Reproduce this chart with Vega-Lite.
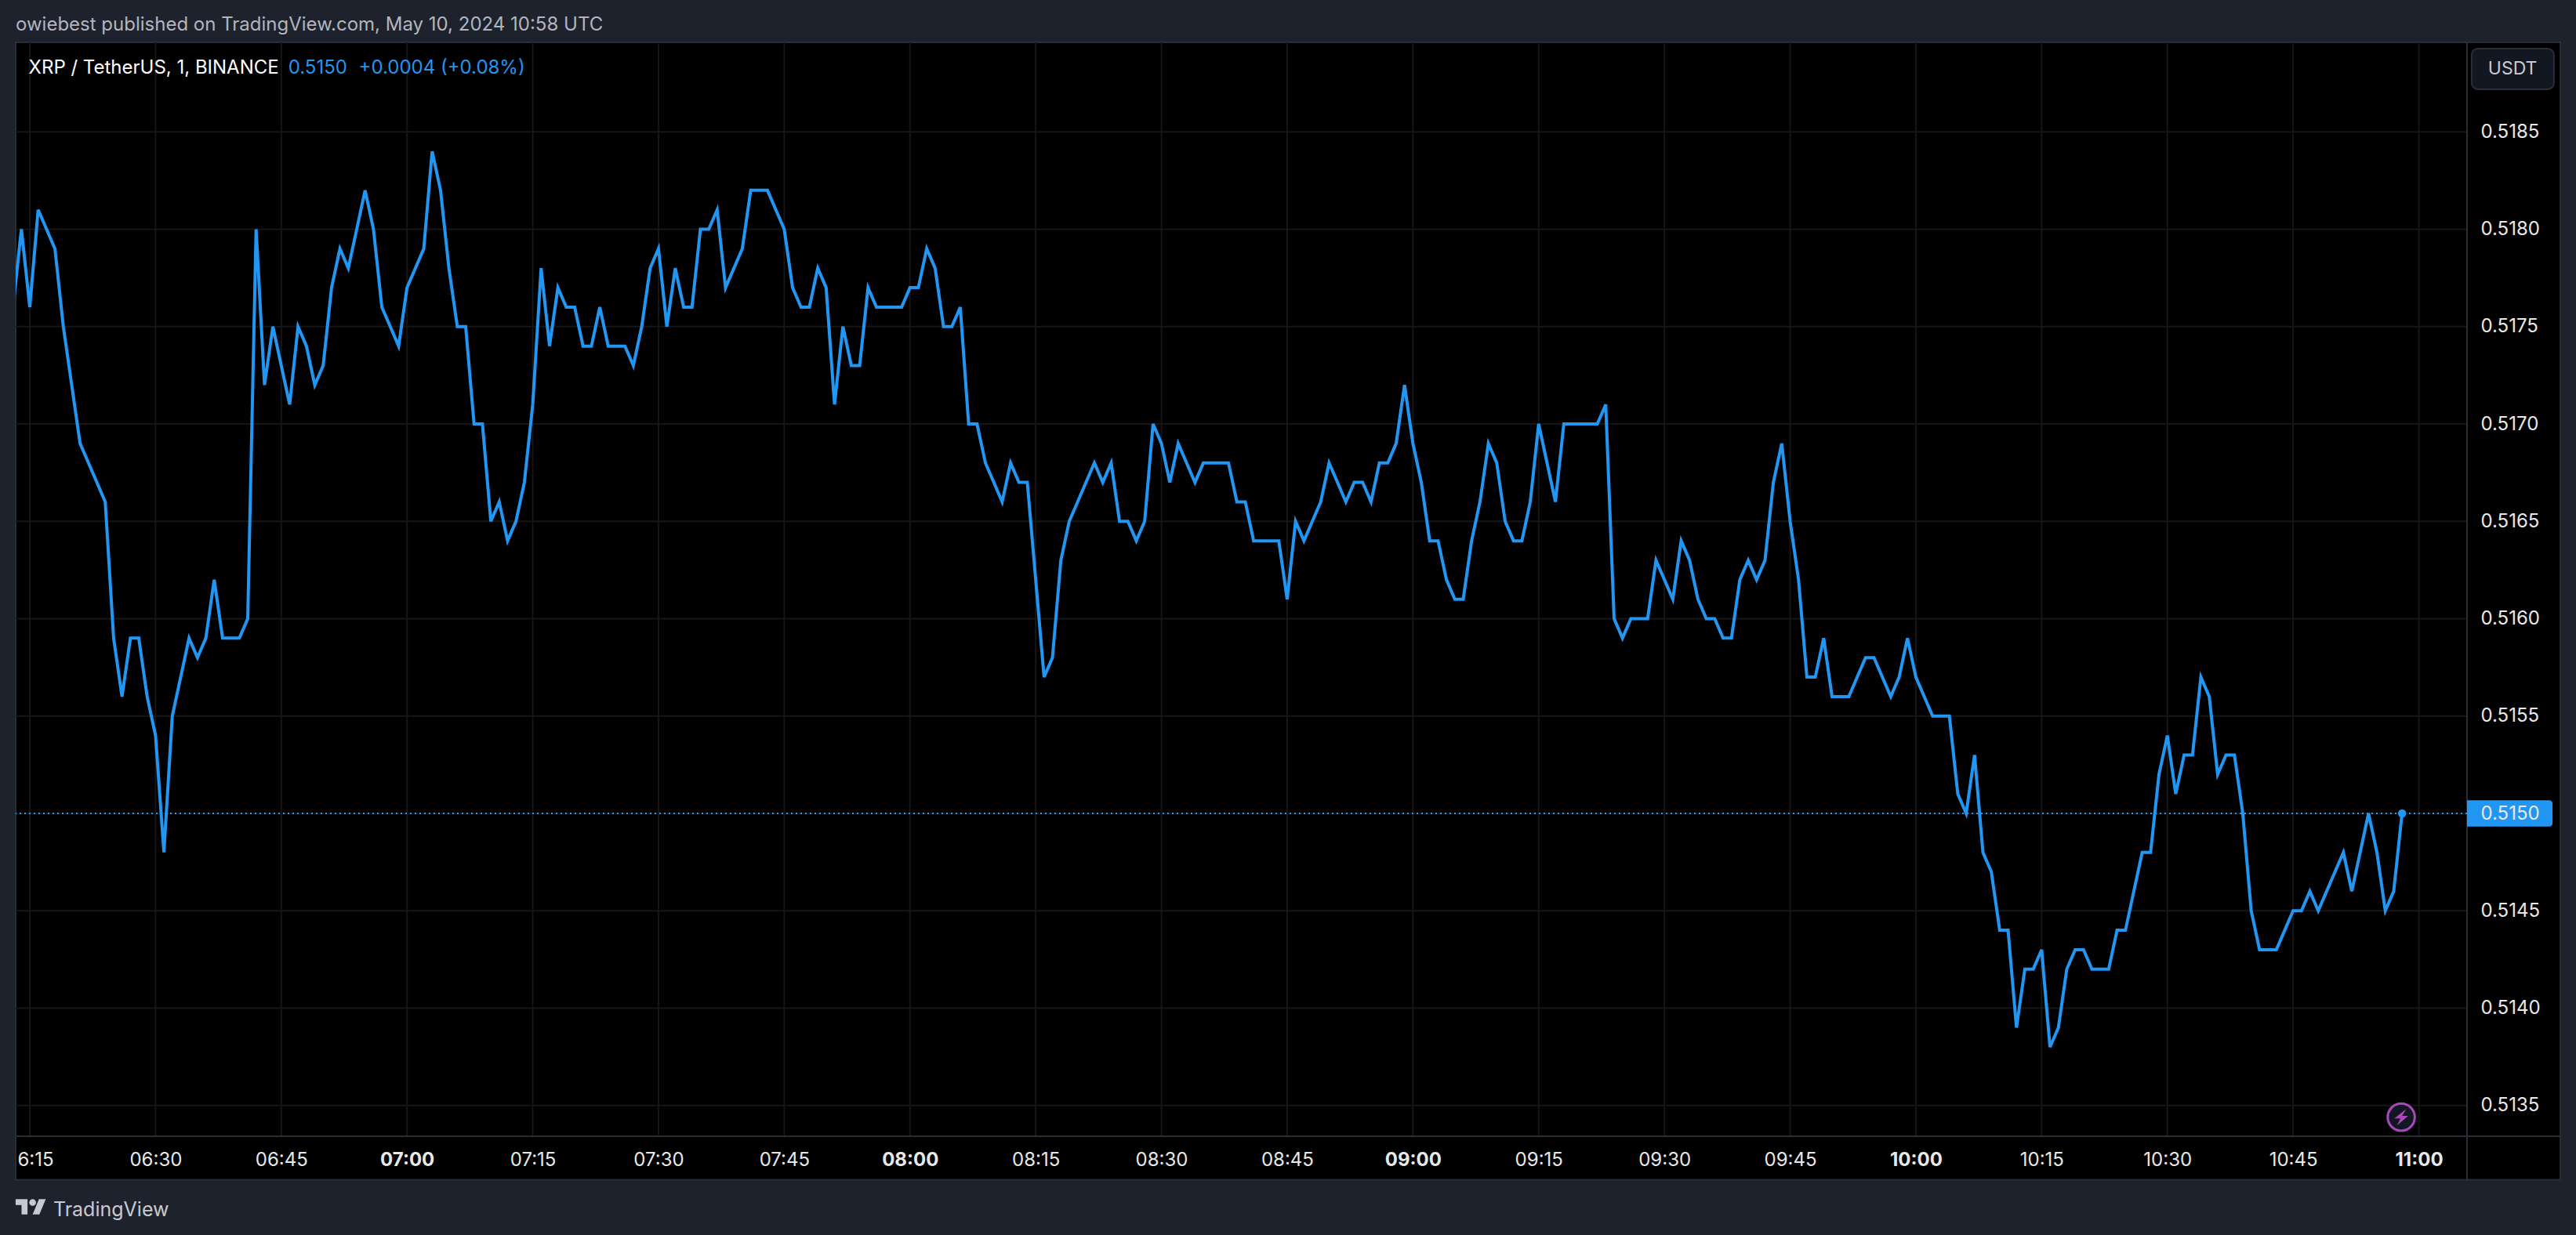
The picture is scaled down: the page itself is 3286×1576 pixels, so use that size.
{
  "$schema": "https://vega.github.io/schema/vega-lite/v6.json",
  "autosize": {"type": "none"},
  "padding": {"left": 20, "top": 54, "right": 139, "bottom": 126},
  "width": 3127,
  "height": 1396,
  "background": "#1e222d",
  "view": {"fill": "#000000", "stroke": "#2a2e39", "strokeWidth": 2},
  "config": {"font": "Inter", "text": {"font": "Inter"}},
  "title": {
    "text": "owiebest published on TradingView.com, May 10, 2024 10:58 UTC",
    "anchor": "start",
    "frame": "group",
    "font": "Inter",
    "fontSize": 24,
    "fontWeight": "normal",
    "color": "#b2b5be",
    "offset": 9
  },
  "datasets": {
    "price": [
      {"t":"2024-05-10T06:13:00Z","p":0.5176},{"t":"2024-05-10T06:14:00Z","p":0.5180},{"t":"2024-05-10T06:15:00Z","p":0.5176},{"t":"2024-05-10T06:16:00Z","p":0.5181},{"t":"2024-05-10T06:17:00Z","p":0.5180},{"t":"2024-05-10T06:18:00Z","p":0.5179},{"t":"2024-05-10T06:19:00Z","p":0.5175},{"t":"2024-05-10T06:20:00Z","p":0.5172},{"t":"2024-05-10T06:21:00Z","p":0.5169},{"t":"2024-05-10T06:22:00Z","p":0.5168},
      {"t":"2024-05-10T06:23:00Z","p":0.5167},{"t":"2024-05-10T06:24:00Z","p":0.5166},{"t":"2024-05-10T06:25:00Z","p":0.5159},{"t":"2024-05-10T06:26:00Z","p":0.5156},{"t":"2024-05-10T06:27:00Z","p":0.5159},{"t":"2024-05-10T06:28:00Z","p":0.5159},{"t":"2024-05-10T06:29:00Z","p":0.5156},{"t":"2024-05-10T06:30:00Z","p":0.5154},{"t":"2024-05-10T06:31:00Z","p":0.5148},{"t":"2024-05-10T06:32:00Z","p":0.5155},
      {"t":"2024-05-10T06:33:00Z","p":0.5157},{"t":"2024-05-10T06:34:00Z","p":0.5159},{"t":"2024-05-10T06:35:00Z","p":0.5158},{"t":"2024-05-10T06:36:00Z","p":0.5159},{"t":"2024-05-10T06:37:00Z","p":0.5162},{"t":"2024-05-10T06:38:00Z","p":0.5159},{"t":"2024-05-10T06:39:00Z","p":0.5159},{"t":"2024-05-10T06:40:00Z","p":0.5159},{"t":"2024-05-10T06:41:00Z","p":0.5160},{"t":"2024-05-10T06:42:00Z","p":0.5180},
      {"t":"2024-05-10T06:43:00Z","p":0.5172},{"t":"2024-05-10T06:44:00Z","p":0.5175},{"t":"2024-05-10T06:45:00Z","p":0.5173},{"t":"2024-05-10T06:46:00Z","p":0.5171},{"t":"2024-05-10T06:47:00Z","p":0.5175},{"t":"2024-05-10T06:48:00Z","p":0.5174},{"t":"2024-05-10T06:49:00Z","p":0.5172},{"t":"2024-05-10T06:50:00Z","p":0.5173},{"t":"2024-05-10T06:51:00Z","p":0.5177},{"t":"2024-05-10T06:52:00Z","p":0.5179},
      {"t":"2024-05-10T06:53:00Z","p":0.5178},{"t":"2024-05-10T06:54:00Z","p":0.5180},{"t":"2024-05-10T06:55:00Z","p":0.5182},{"t":"2024-05-10T06:56:00Z","p":0.5180},{"t":"2024-05-10T06:57:00Z","p":0.5176},{"t":"2024-05-10T06:58:00Z","p":0.5175},{"t":"2024-05-10T06:59:00Z","p":0.5174},{"t":"2024-05-10T07:00:00Z","p":0.5177},{"t":"2024-05-10T07:01:00Z","p":0.5178},{"t":"2024-05-10T07:02:00Z","p":0.5179},
      {"t":"2024-05-10T07:03:00Z","p":0.5184},{"t":"2024-05-10T07:04:00Z","p":0.5182},{"t":"2024-05-10T07:05:00Z","p":0.5178},{"t":"2024-05-10T07:06:00Z","p":0.5175},{"t":"2024-05-10T07:07:00Z","p":0.5175},{"t":"2024-05-10T07:08:00Z","p":0.5170},{"t":"2024-05-10T07:09:00Z","p":0.5170},{"t":"2024-05-10T07:10:00Z","p":0.5165},{"t":"2024-05-10T07:11:00Z","p":0.5166},{"t":"2024-05-10T07:12:00Z","p":0.5164},
      {"t":"2024-05-10T07:13:00Z","p":0.5165},{"t":"2024-05-10T07:14:00Z","p":0.5167},{"t":"2024-05-10T07:15:00Z","p":0.5171},{"t":"2024-05-10T07:16:00Z","p":0.5178},{"t":"2024-05-10T07:17:00Z","p":0.5174},{"t":"2024-05-10T07:18:00Z","p":0.5177},{"t":"2024-05-10T07:19:00Z","p":0.5176},{"t":"2024-05-10T07:20:00Z","p":0.5176},{"t":"2024-05-10T07:21:00Z","p":0.5174},{"t":"2024-05-10T07:22:00Z","p":0.5174},
      {"t":"2024-05-10T07:23:00Z","p":0.5176},{"t":"2024-05-10T07:24:00Z","p":0.5174},{"t":"2024-05-10T07:25:00Z","p":0.5174},{"t":"2024-05-10T07:26:00Z","p":0.5174},{"t":"2024-05-10T07:27:00Z","p":0.5173},{"t":"2024-05-10T07:28:00Z","p":0.5175},{"t":"2024-05-10T07:29:00Z","p":0.5178},{"t":"2024-05-10T07:30:00Z","p":0.5179},{"t":"2024-05-10T07:31:00Z","p":0.5175},{"t":"2024-05-10T07:32:00Z","p":0.5178},
      {"t":"2024-05-10T07:33:00Z","p":0.5176},{"t":"2024-05-10T07:34:00Z","p":0.5176},{"t":"2024-05-10T07:35:00Z","p":0.5180},{"t":"2024-05-10T07:36:00Z","p":0.5180},{"t":"2024-05-10T07:37:00Z","p":0.5181},{"t":"2024-05-10T07:38:00Z","p":0.5177},{"t":"2024-05-10T07:39:00Z","p":0.5178},{"t":"2024-05-10T07:40:00Z","p":0.5179},{"t":"2024-05-10T07:41:00Z","p":0.5182},{"t":"2024-05-10T07:42:00Z","p":0.5182},
      {"t":"2024-05-10T07:43:00Z","p":0.5182},{"t":"2024-05-10T07:44:00Z","p":0.5181},{"t":"2024-05-10T07:45:00Z","p":0.5180},{"t":"2024-05-10T07:46:00Z","p":0.5177},{"t":"2024-05-10T07:47:00Z","p":0.5176},{"t":"2024-05-10T07:48:00Z","p":0.5176},{"t":"2024-05-10T07:49:00Z","p":0.5178},{"t":"2024-05-10T07:50:00Z","p":0.5177},{"t":"2024-05-10T07:51:00Z","p":0.5171},{"t":"2024-05-10T07:52:00Z","p":0.5175},
      {"t":"2024-05-10T07:53:00Z","p":0.5173},{"t":"2024-05-10T07:54:00Z","p":0.5173},{"t":"2024-05-10T07:55:00Z","p":0.5177},{"t":"2024-05-10T07:56:00Z","p":0.5176},{"t":"2024-05-10T07:57:00Z","p":0.5176},{"t":"2024-05-10T07:58:00Z","p":0.5176},{"t":"2024-05-10T07:59:00Z","p":0.5176},{"t":"2024-05-10T08:00:00Z","p":0.5177},{"t":"2024-05-10T08:01:00Z","p":0.5177},{"t":"2024-05-10T08:02:00Z","p":0.5179},
      {"t":"2024-05-10T08:03:00Z","p":0.5178},{"t":"2024-05-10T08:04:00Z","p":0.5175},{"t":"2024-05-10T08:05:00Z","p":0.5175},{"t":"2024-05-10T08:06:00Z","p":0.5176},{"t":"2024-05-10T08:07:00Z","p":0.5170},{"t":"2024-05-10T08:08:00Z","p":0.5170},{"t":"2024-05-10T08:09:00Z","p":0.5168},{"t":"2024-05-10T08:10:00Z","p":0.5167},{"t":"2024-05-10T08:11:00Z","p":0.5166},{"t":"2024-05-10T08:12:00Z","p":0.5168},
      {"t":"2024-05-10T08:13:00Z","p":0.5167},{"t":"2024-05-10T08:14:00Z","p":0.5167},{"t":"2024-05-10T08:15:00Z","p":0.5162},{"t":"2024-05-10T08:16:00Z","p":0.5157},{"t":"2024-05-10T08:17:00Z","p":0.5158},{"t":"2024-05-10T08:18:00Z","p":0.5163},{"t":"2024-05-10T08:19:00Z","p":0.5165},{"t":"2024-05-10T08:20:00Z","p":0.5166},{"t":"2024-05-10T08:21:00Z","p":0.5167},{"t":"2024-05-10T08:22:00Z","p":0.5168},
      {"t":"2024-05-10T08:23:00Z","p":0.5167},{"t":"2024-05-10T08:24:00Z","p":0.5168},{"t":"2024-05-10T08:25:00Z","p":0.5165},{"t":"2024-05-10T08:26:00Z","p":0.5165},{"t":"2024-05-10T08:27:00Z","p":0.5164},{"t":"2024-05-10T08:28:00Z","p":0.5165},{"t":"2024-05-10T08:29:00Z","p":0.5170},{"t":"2024-05-10T08:30:00Z","p":0.5169},{"t":"2024-05-10T08:31:00Z","p":0.5167},{"t":"2024-05-10T08:32:00Z","p":0.5169},
      {"t":"2024-05-10T08:33:00Z","p":0.5168},{"t":"2024-05-10T08:34:00Z","p":0.5167},{"t":"2024-05-10T08:35:00Z","p":0.5168},{"t":"2024-05-10T08:36:00Z","p":0.5168},{"t":"2024-05-10T08:37:00Z","p":0.5168},{"t":"2024-05-10T08:38:00Z","p":0.5168},{"t":"2024-05-10T08:39:00Z","p":0.5166},{"t":"2024-05-10T08:40:00Z","p":0.5166},{"t":"2024-05-10T08:41:00Z","p":0.5164},{"t":"2024-05-10T08:42:00Z","p":0.5164},
      {"t":"2024-05-10T08:43:00Z","p":0.5164},{"t":"2024-05-10T08:44:00Z","p":0.5164},{"t":"2024-05-10T08:45:00Z","p":0.5161},{"t":"2024-05-10T08:46:00Z","p":0.5165},{"t":"2024-05-10T08:47:00Z","p":0.5164},{"t":"2024-05-10T08:48:00Z","p":0.5165},{"t":"2024-05-10T08:49:00Z","p":0.5166},{"t":"2024-05-10T08:50:00Z","p":0.5168},{"t":"2024-05-10T08:51:00Z","p":0.5167},{"t":"2024-05-10T08:52:00Z","p":0.5166},
      {"t":"2024-05-10T08:53:00Z","p":0.5167},{"t":"2024-05-10T08:54:00Z","p":0.5167},{"t":"2024-05-10T08:55:00Z","p":0.5166},{"t":"2024-05-10T08:56:00Z","p":0.5168},{"t":"2024-05-10T08:57:00Z","p":0.5168},{"t":"2024-05-10T08:58:00Z","p":0.5169},{"t":"2024-05-10T08:59:00Z","p":0.5172},{"t":"2024-05-10T09:00:00Z","p":0.5169},{"t":"2024-05-10T09:01:00Z","p":0.5167},{"t":"2024-05-10T09:02:00Z","p":0.5164},
      {"t":"2024-05-10T09:03:00Z","p":0.5164},{"t":"2024-05-10T09:04:00Z","p":0.5162},{"t":"2024-05-10T09:05:00Z","p":0.5161},{"t":"2024-05-10T09:06:00Z","p":0.5161},{"t":"2024-05-10T09:07:00Z","p":0.5164},{"t":"2024-05-10T09:08:00Z","p":0.5166},{"t":"2024-05-10T09:09:00Z","p":0.5169},{"t":"2024-05-10T09:10:00Z","p":0.5168},{"t":"2024-05-10T09:11:00Z","p":0.5165},{"t":"2024-05-10T09:12:00Z","p":0.5164},
      {"t":"2024-05-10T09:13:00Z","p":0.5164},{"t":"2024-05-10T09:14:00Z","p":0.5166},{"t":"2024-05-10T09:15:00Z","p":0.5170},{"t":"2024-05-10T09:16:00Z","p":0.5168},{"t":"2024-05-10T09:17:00Z","p":0.5166},{"t":"2024-05-10T09:18:00Z","p":0.5170},{"t":"2024-05-10T09:19:00Z","p":0.5170},{"t":"2024-05-10T09:20:00Z","p":0.5170},{"t":"2024-05-10T09:21:00Z","p":0.5170},{"t":"2024-05-10T09:22:00Z","p":0.5170},
      {"t":"2024-05-10T09:23:00Z","p":0.5171},{"t":"2024-05-10T09:24:00Z","p":0.5160},{"t":"2024-05-10T09:25:00Z","p":0.5159},{"t":"2024-05-10T09:26:00Z","p":0.5160},{"t":"2024-05-10T09:27:00Z","p":0.5160},{"t":"2024-05-10T09:28:00Z","p":0.5160},{"t":"2024-05-10T09:29:00Z","p":0.5163},{"t":"2024-05-10T09:30:00Z","p":0.5162},{"t":"2024-05-10T09:31:00Z","p":0.5161},{"t":"2024-05-10T09:32:00Z","p":0.5164},
      {"t":"2024-05-10T09:33:00Z","p":0.5163},{"t":"2024-05-10T09:34:00Z","p":0.5161},{"t":"2024-05-10T09:35:00Z","p":0.5160},{"t":"2024-05-10T09:36:00Z","p":0.5160},{"t":"2024-05-10T09:37:00Z","p":0.5159},{"t":"2024-05-10T09:38:00Z","p":0.5159},{"t":"2024-05-10T09:39:00Z","p":0.5162},{"t":"2024-05-10T09:40:00Z","p":0.5163},{"t":"2024-05-10T09:41:00Z","p":0.5162},{"t":"2024-05-10T09:42:00Z","p":0.5163},
      {"t":"2024-05-10T09:43:00Z","p":0.5167},{"t":"2024-05-10T09:44:00Z","p":0.5169},{"t":"2024-05-10T09:45:00Z","p":0.5165},{"t":"2024-05-10T09:46:00Z","p":0.5162},{"t":"2024-05-10T09:47:00Z","p":0.5157},{"t":"2024-05-10T09:48:00Z","p":0.5157},{"t":"2024-05-10T09:49:00Z","p":0.5159},{"t":"2024-05-10T09:50:00Z","p":0.5156},{"t":"2024-05-10T09:51:00Z","p":0.5156},{"t":"2024-05-10T09:52:00Z","p":0.5156},
      {"t":"2024-05-10T09:53:00Z","p":0.5157},{"t":"2024-05-10T09:54:00Z","p":0.5158},{"t":"2024-05-10T09:55:00Z","p":0.5158},{"t":"2024-05-10T09:56:00Z","p":0.5157},{"t":"2024-05-10T09:57:00Z","p":0.5156},{"t":"2024-05-10T09:58:00Z","p":0.5157},{"t":"2024-05-10T09:59:00Z","p":0.5159},{"t":"2024-05-10T10:00:00Z","p":0.5157},{"t":"2024-05-10T10:01:00Z","p":0.5156},{"t":"2024-05-10T10:02:00Z","p":0.5155},
      {"t":"2024-05-10T10:03:00Z","p":0.5155},{"t":"2024-05-10T10:04:00Z","p":0.5155},{"t":"2024-05-10T10:05:00Z","p":0.5151},{"t":"2024-05-10T10:06:00Z","p":0.5150},{"t":"2024-05-10T10:07:00Z","p":0.5153},{"t":"2024-05-10T10:08:00Z","p":0.5148},{"t":"2024-05-10T10:09:00Z","p":0.5147},{"t":"2024-05-10T10:10:00Z","p":0.5144},{"t":"2024-05-10T10:11:00Z","p":0.5144},{"t":"2024-05-10T10:12:00Z","p":0.5139},
      {"t":"2024-05-10T10:13:00Z","p":0.5142},{"t":"2024-05-10T10:14:00Z","p":0.5142},{"t":"2024-05-10T10:15:00Z","p":0.5143},{"t":"2024-05-10T10:16:00Z","p":0.5138},{"t":"2024-05-10T10:17:00Z","p":0.5139},{"t":"2024-05-10T10:18:00Z","p":0.5142},{"t":"2024-05-10T10:19:00Z","p":0.5143},{"t":"2024-05-10T10:20:00Z","p":0.5143},{"t":"2024-05-10T10:21:00Z","p":0.5142},{"t":"2024-05-10T10:22:00Z","p":0.5142},
      {"t":"2024-05-10T10:23:00Z","p":0.5142},{"t":"2024-05-10T10:24:00Z","p":0.5144},{"t":"2024-05-10T10:25:00Z","p":0.5144},{"t":"2024-05-10T10:26:00Z","p":0.5146},{"t":"2024-05-10T10:27:00Z","p":0.5148},{"t":"2024-05-10T10:28:00Z","p":0.5148},{"t":"2024-05-10T10:29:00Z","p":0.5152},{"t":"2024-05-10T10:30:00Z","p":0.5154},{"t":"2024-05-10T10:31:00Z","p":0.5151},{"t":"2024-05-10T10:32:00Z","p":0.5153},
      {"t":"2024-05-10T10:33:00Z","p":0.5153},{"t":"2024-05-10T10:34:00Z","p":0.5157},{"t":"2024-05-10T10:35:00Z","p":0.5156},{"t":"2024-05-10T10:36:00Z","p":0.5152},{"t":"2024-05-10T10:37:00Z","p":0.5153},{"t":"2024-05-10T10:38:00Z","p":0.5153},{"t":"2024-05-10T10:39:00Z","p":0.5150},{"t":"2024-05-10T10:40:00Z","p":0.5145},{"t":"2024-05-10T10:41:00Z","p":0.5143},{"t":"2024-05-10T10:42:00Z","p":0.5143},
      {"t":"2024-05-10T10:43:00Z","p":0.5143},{"t":"2024-05-10T10:44:00Z","p":0.5144},{"t":"2024-05-10T10:45:00Z","p":0.5145},{"t":"2024-05-10T10:46:00Z","p":0.5145},{"t":"2024-05-10T10:47:00Z","p":0.5146},{"t":"2024-05-10T10:48:00Z","p":0.5145},{"t":"2024-05-10T10:49:00Z","p":0.5146},{"t":"2024-05-10T10:50:00Z","p":0.5147},{"t":"2024-05-10T10:51:00Z","p":0.5148},{"t":"2024-05-10T10:52:00Z","p":0.5146},
      {"t":"2024-05-10T10:53:00Z","p":0.5148},{"t":"2024-05-10T10:54:00Z","p":0.5150},{"t":"2024-05-10T10:55:00Z","p":0.5148},{"t":"2024-05-10T10:56:00Z","p":0.5145},{"t":"2024-05-10T10:57:00Z","p":0.5146},{"t":"2024-05-10T10:58:00Z","p":0.5150}
    ],
    "last": [{"t": "2024-05-10T10:58:00Z", "p": 0.5150}],
    "panel": [{"part": "panel"}],
    "levels": [{"p":0.5135},{"p":0.514},{"p":0.5145},{"p":0.515},{"p":0.5155},{"p":0.516},{"p":0.5165},{"p":0.517},{"p":0.5175},{"p":0.518},{"p":0.5185}],
    "times": [{"t":"2024-05-10T06:15:00Z"},{"t":"2024-05-10T06:30:00Z"},{"t":"2024-05-10T06:45:00Z"},{"t":"2024-05-10T07:00:00Z"},{"t":"2024-05-10T07:15:00Z"},{"t":"2024-05-10T07:30:00Z"},{"t":"2024-05-10T07:45:00Z"},{"t":"2024-05-10T08:00:00Z"},{"t":"2024-05-10T08:15:00Z"},{"t":"2024-05-10T08:30:00Z"},{"t":"2024-05-10T08:45:00Z"},{"t":"2024-05-10T09:00:00Z"},{"t":"2024-05-10T09:15:00Z"},{"t":"2024-05-10T09:30:00Z"},{"t":"2024-05-10T09:45:00Z"},{"t":"2024-05-10T10:00:00Z"},{"t":"2024-05-10T10:15:00Z"},{"t":"2024-05-10T10:30:00Z"},{"t":"2024-05-10T10:45:00Z"},{"t":"2024-05-10T11:00:00Z"}]
  },
  "layer": [
    {
      "data": {"name": "times"},
      "mark": {"type": "rule", "color": "#161616", "strokeWidth": 2},
      "encoding": {"x": {"field": "t", "type": "temporal", "scale": {"type": "utc", "domain": ["2024-05-10T06:13:19Z", "2024-05-10T11:05:45Z"]}}}
    },
    {
      "data": {"name": "levels"},
      "mark": {"type": "rule", "color": "#161616", "strokeWidth": 2},
      "encoding": {"y": {"field": "p", "type": "quantitative", "scale": {"domain": [0.513342, 0.51896], "nice": false, "zero": false}}}
    },
    {
      "data": {"name": "panel"},
      "mark": {"type": "rect", "fill": "#000000", "stroke": "#2a2d35", "strokeWidth": 2},
      "encoding": {
        "x": {"datum": {"year": 2024, "month": 5, "date": 10, "hours": 6, "minutes": 13, "seconds": 19, "utc": true}, "type": "temporal"},
        "x2": {"datum": {"year": 2024, "month": 5, "date": 10, "hours": 11, "minutes": 5, "seconds": 45, "utc": true}},
        "y": {"datum": 0.513342, "type": "quantitative"},
        "y2": {"datum": 0.513119}
      }
    },
    {
      "data": {"name": "panel"},
      "mark": {"type": "rect", "fill": "#000000", "stroke": "#2a2d35", "strokeWidth": 2},
      "encoding": {
        "x": {"datum": {"year": 2024, "month": 5, "date": 10, "hours": 11, "minutes": 5, "seconds": 45, "utc": true}, "type": "temporal"},
        "x2": {"datum": {"year": 2024, "month": 5, "date": 10, "hours": 11, "minutes": 16, "seconds": 53, "utc": true}},
        "y": {"datum": 0.51896, "type": "quantitative"},
        "y2": {"datum": 0.513342}
      }
    },
    {
      "data": {"name": "panel"},
      "mark": {"type": "rect", "fill": "#000000", "stroke": "#2a2d35", "strokeWidth": 2},
      "encoding": {
        "x": {"datum": {"year": 2024, "month": 5, "date": 10, "hours": 11, "minutes": 5, "seconds": 45, "utc": true}, "type": "temporal"},
        "x2": {"datum": {"year": 2024, "month": 5, "date": 10, "hours": 11, "minutes": 16, "seconds": 53, "utc": true}},
        "y": {"datum": 0.513342, "type": "quantitative"},
        "y2": {"datum": 0.513119}
      }
    },
    {
      "data": {"name": "last"},
      "mark": {"type": "rule", "color": "#2196f3", "strokeWidth": 2, "strokeDash": [2, 4]},
      "encoding": {"y": {"field": "p", "type": "quantitative"}}
    },
    {
      "data": {"name": "price"},
      "mark": {"type": "line", "color": "#2196f3", "strokeWidth": 4, "clip": true},
      "encoding": {
        "x": {
          "field": "t",
          "type": "temporal",
          "axis": {"title": null, "orient": "bottom", "grid": false, "ticks": false, "domain": false, "values": ["2024-05-10T06:15:00Z","2024-05-10T06:30:00Z","2024-05-10T06:45:00Z","2024-05-10T07:00:00Z","2024-05-10T07:15:00Z","2024-05-10T07:30:00Z","2024-05-10T07:45:00Z","2024-05-10T08:00:00Z","2024-05-10T08:15:00Z","2024-05-10T08:30:00Z","2024-05-10T08:45:00Z","2024-05-10T09:00:00Z","2024-05-10T09:15:00Z","2024-05-10T09:30:00Z","2024-05-10T09:45:00Z","2024-05-10T10:00:00Z","2024-05-10T10:15:00Z","2024-05-10T10:30:00Z","2024-05-10T10:45:00Z","2024-05-10T11:00:00Z"], "labelFont": "Inter", "labelFontSize": 24, "labelColor": "#e8e8e8", "labelBaseline": "middle", "labelPadding": 30, "labelOverlap": false, "labelBound": false, "labelFlush": false, "labelExpr": "utchours(datum.value)==6&&utcminutes(datum.value)==15?'6:15':utcFormat(datum.value,'%H:%M')", "labelFontWeight": {"condition": {"test": "utcminutes(datum.value)==0", "value": 700}, "value": 400}, "labelOffset": {"condition": {"test": "utchours(datum.value)==6&&utcminutes(datum.value)==15", "value": 7}, "value": 0}, "zindex": 1}
        },
        "y": {
          "field": "p",
          "type": "quantitative",
          "axis": {"title": null, "orient": "right", "grid": false, "ticks": false, "domain": false, "values": [0.5135, 0.514, 0.5145, 0.515, 0.5155, 0.516, 0.5165, 0.517, 0.5175, 0.518, 0.5185], "format": ".4f", "labelFont": "Inter", "labelFontSize": 24, "labelColor": "#e8e8e8", "labelPadding": 17, "labelOverlap": false, "zindex": 1}
        }
      }
    },
    {
      "data": {"name": "last"},
      "mark": {"type": "point", "filled": true, "color": "#2196f3", "size": 110, "opacity": 1},
      "encoding": {
        "x": {"field": "t", "type": "temporal"},
        "y": {"field": "p", "type": "quantitative"}
      }
    },
    {
      "data": {"name": "panel"},
      "mark": {"type": "rect", "fill": "#2196f3", "cornerRadiusTopRight": 4, "cornerRadiusBottomRight": 4},
      "encoding": {
        "x": {"datum": {"year": 2024, "month": 5, "date": 10, "hours": 11, "minutes": 5, "seconds": 45, "utc": true}, "type": "temporal"},
        "x2": {"datum": {"year": 2024, "month": 5, "date": 10, "hours": 11, "minutes": 15, "seconds": 57, "utc": true}},
        "y": {"datum": 0.5150674, "type": "quantitative"},
        "y2": {"datum": 0.5149326}
      }
    },
    {
      "data": {"name": "panel"},
      "mark": {"type": "rect", "fill": "#131722", "stroke": "#2a2e39", "strokeWidth": 2, "cornerRadius": 8},
      "encoding": {
        "x": {"datum": {"year": 2024, "month": 5, "date": 10, "hours": 11, "minutes": 6, "seconds": 18, "utc": true}, "type": "temporal"},
        "x2": {"datum": {"year": 2024, "month": 5, "date": 10, "hours": 11, "minutes": 16, "seconds": 7, "utc": true}},
        "y": {"datum": 0.518928, "type": "quantitative"},
        "y2": {"datum": 0.518719}
      }
    },
    {
      "data": {"values": [{"label": "USDT"}]},
      "mark": {"type": "text", "fontSize": 23, "color": "#c8cad3", "align": "center", "baseline": "middle"},
      "encoding": {
        "x": {"datum": {"year": 2024, "month": 5, "date": 10, "hours": 11, "minutes": 11, "seconds": 11, "utc": true}, "type": "temporal"},
        "y": {"datum": 0.518824, "type": "quantitative"},
        "text": {"field": "label"}
      }
    },
    {
      "data": {"values": [{"label": "XRP / TetherUS, 1, BINANCE"}]},
      "mark": {"type": "text", "fontSize": 24, "color": "#ffffff", "align": "left", "baseline": "middle"},
      "encoding": {
        "x": {"datum": {"year": 2024, "month": 5, "date": 10, "hours": 6, "minutes": 14, "seconds": 52, "utc": true}, "type": "temporal"},
        "y": {"datum": 0.518828, "type": "quantitative"},
        "text": {"field": "label"}
      }
    },
    {
      "data": {"values": [{"label": "0.5150"}]},
      "mark": {"type": "text", "fontSize": 24, "color": "#2196f3", "align": "left", "baseline": "middle"},
      "encoding": {
        "x": {"datum": {"year": 2024, "month": 5, "date": 10, "hours": 6, "minutes": 45, "seconds": 50, "utc": true}, "type": "temporal"},
        "y": {"datum": 0.518828, "type": "quantitative"},
        "text": {"field": "label"}
      }
    },
    {
      "data": {"values": [{"label": "+0.0004 (+0.08%)"}]},
      "mark": {"type": "text", "fontSize": 24, "color": "#2196f3", "align": "left", "baseline": "middle"},
      "encoding": {
        "x": {"datum": {"year": 2024, "month": 5, "date": 10, "hours": 6, "minutes": 54, "seconds": 14, "utc": true}, "type": "temporal"},
        "y": {"datum": 0.518828, "type": "quantitative"},
        "text": {"field": "label"}
      }
    },
    {
      "data": {"values": [{"label": "TradingView"}]},
      "mark": {"type": "text", "fontSize": 25, "color": "#c8cad3", "align": "left", "baseline": "middle"},
      "encoding": {
        "x": {"datum": {"year": 2024, "month": 5, "date": 10, "hours": 6, "minutes": 17, "seconds": 48, "utc": true}, "type": "temporal"},
        "y": {"datum": 0.512965, "type": "quantitative"},
        "text": {"field": "label"}
      }
    },
    {
      "data": {"name": "panel"},
      "mark": {"type": "point", "filled": true, "opacity": 1, "color": "#c8cad3", "size": 6084, "shape": "M-0.111,0.25H-0.306V-0.056H-0.5V-0.25H-0.111ZM0.278,0.25H0.056L0.264,-0.25H0.486ZM-0.055,-0.139a0.111,0.111 0 1,0 0.222,0a0.111,0.111 0 1,0 -0.222,0Z"},
      "encoding": {
        "x": {"datum": {"year": 2024, "month": 5, "date": 10, "hours": 6, "minutes": 15, "seconds": 8, "utc": true}, "type": "temporal"},
        "y": {"datum": 0.51298, "type": "quantitative"}
      }
    },
    {
      "data": {"name": "panel"},
      "mark": {"type": "point", "filled": true, "opacity": 1, "fill": "#131722", "stroke": "#ab47bc", "strokeWidth": 3, "size": 1195},
      "encoding": {
        "x": {"datum": {"year": 2024, "month": 5, "date": 10, "hours": 10, "minutes": 57, "seconds": 54, "utc": true}, "type": "temporal"},
        "y": {"datum": 0.51344, "type": "quantitative"}
      }
    },
    {
      "data": {"name": "panel"},
      "mark": {"type": "point", "filled": true, "opacity": 1, "color": "#ab47bc", "size": 1764, "shape": "M0.3,-0.5L-0.42,0.08H-0.05L-0.25,0.5L0.42,-0.08H0.05Z"},
      "encoding": {
        "x": {"datum": {"year": 2024, "month": 5, "date": 10, "hours": 10, "minutes": 57, "seconds": 54, "utc": true}, "type": "temporal"},
        "y": {"datum": 0.51344, "type": "quantitative"}
      }
    }
  ]
}
